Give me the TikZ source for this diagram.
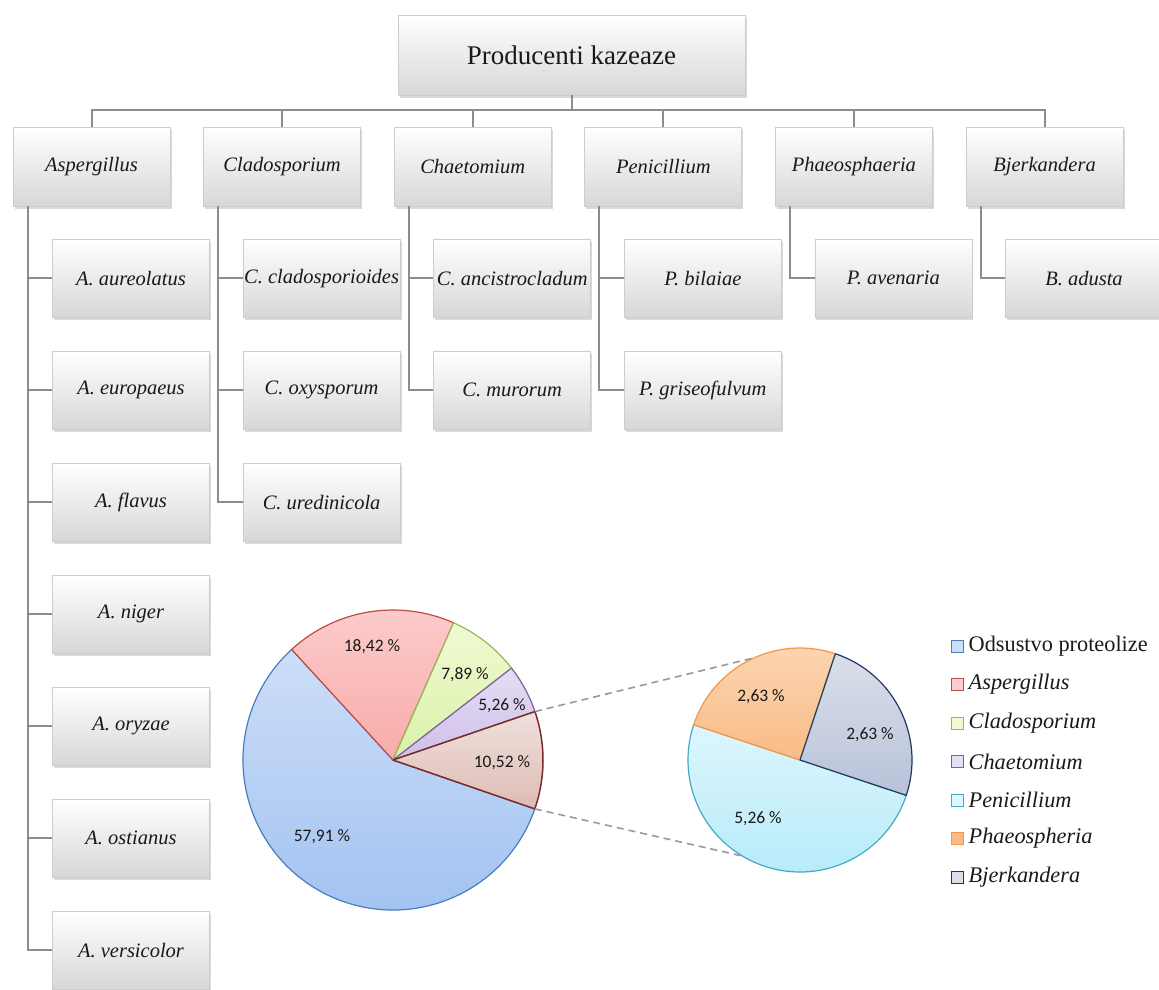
\documentclass[tikz,border=0pt]{standalone}
\usepackage{fontspec}
\setmainfont{Liberation Serif}
\newfontfamily\piefont{Carlito}
\usepackage{xcolor}
\definecolor{LineGray}{RGB}{140,140,140}
\definecolor{BoxBorder}{RGB}{205,205,205}
\definecolor{BoxShade}{RGB}{215,215,215}
\definecolor{TextDark}{RGB}{25,25,25}
\definecolor{BlueLine}{RGB}{74,126,187}
\definecolor{BlueTop}{RGB}{205,222,248}
\definecolor{BlueBot}{RGB}{160,193,241}
\definecolor{PinkLine}{RGB}{190,75,72}
\definecolor{PinkTop}{RGB}{252,205,204}
\definecolor{PinkBot}{RGB}{247,172,170}
\definecolor{GreenLine}{RGB}{152,185,84}
\definecolor{GreenTop}{RGB}{240,250,210}
\definecolor{GreenBot}{RGB}{218,241,168}
\definecolor{PurpleLine}{RGB}{125,96,160}
\definecolor{PurpleTop}{RGB}{230,222,244}
\definecolor{PurpleBot}{RGB}{205,190,232}
\definecolor{TanLine}{RGB}{119,44,42}
\definecolor{TanTop}{RGB}{240,224,220}
\definecolor{TanBot}{RGB}{220,188,180}
\definecolor{CyanLine}{RGB}{70,170,197}
\definecolor{CyanTop}{RGB}{222,246,253}
\definecolor{CyanBot}{RGB}{180,234,249}
\definecolor{OrangeLine}{RGB}{247,150,70}
\definecolor{OrangeTop}{RGB}{252,216,182}
\definecolor{OrangeBot}{RGB}{249,187,134}
\definecolor{NavyLine}{RGB}{31,58,96}
\definecolor{NavyTop}{RGB}{218,223,234}
\definecolor{NavyBot}{RGB}{184,194,216}
\usetikzlibrary{positioning, shadows}
\tikzset{
  % Hierarchy boxes
  hbox/.style={
    rectangle, draw=BoxBorder, line width=0.8pt,
    top color=white, middle color=white!96!black, bottom color=BoxShade,
    drop shadow={shadow xshift=1.5pt, shadow yshift=-3pt, opacity=0.3},
    minimum width=157pt, minimum height=78pt,
    inner sep=1pt, text=TextDark,
    font=\fontsize{20.5}{24}\selectfont\itshape
  },
  rootbox/.style={hbox, minimum width=347pt, minimum height=80pt,
    font=\fontsize{27}{30}\selectfont},
  gbox/.style={hbox, minimum height=79pt},
  sbox/.style={hbox},
  % Tree lines
  conn/.style={draw=LineGray, line width=2pt},
  % Pie slices
  slice/.style={line width=1.2pt, line join=round},
  sl blue/.style={slice, draw=BlueLine, top color=BlueTop, bottom color=BlueBot},
  sl pink/.style={slice, draw=PinkLine, top color=PinkTop, bottom color=PinkBot},
  sl green/.style={slice, draw=GreenLine, top color=GreenTop, bottom color=GreenBot},
  sl purple/.style={slice, draw=PurpleLine, top color=PurpleTop, bottom color=PurpleBot},
  sl tan/.style={slice, draw=TanLine, top color=TanTop, bottom color=TanBot, line width=1.5pt},
  sl cyan/.style={slice, draw=CyanLine, top color=CyanTop, bottom color=CyanBot},
  sl orange/.style={slice, draw=OrangeLine, top color=OrangeTop, bottom color=OrangeBot},
  sl navy/.style={slice, draw=NavyLine, top color=NavyTop, bottom color=NavyBot},
  pielabel/.style={font=\piefont\fontsize{17.5}{20}\selectfont, text=TextDark, inner sep=0pt},
  zoomline/.style={draw=gray!80, line width=1.6pt, dash pattern=on 7pt off 5pt},
  % Legend
  legsq/.style={rectangle, minimum size=12pt, inner sep=0pt, line width=1pt},
  legtext/.style={font=\fontsize{22.3}{25}\selectfont, text=TextDark, inner sep=0pt, anchor=west},
}

\begin{document}
\begin{tikzpicture}[x=1pt, y=1pt]

  \useasboundingbox (0,0) rectangle (1159,-989);

  %% Root and genera
  \node[rootbox] (root) at (571.5,-55) {Producenti kazeaze};

  \node[gbox] (asp) at (91.5,-166.5) {Aspergillus};
  \node[gbox, right=32.8pt of asp] (cla) {Cladosporium};
  \node[gbox, right=32.8pt of cla] (cha) {Chaetomium};
  \node[gbox, right=32.8pt of cha] (pen) {Penicillium};
  \node[gbox, right=32.8pt of pen] (pha) {Phaeosphaeria};
  \node[gbox, right=32.8pt of pha] (bje) {Bjerkandera};

  %% Species
  \node[sbox, below=32.5pt of asp, xshift=39.5pt] (aaur) {A. aureolatus};
  \node[sbox, below=33.2pt of aaur] (aeur) {A. europaeus};
  \node[sbox, below=33.2pt of aeur] (afla) {A. flavus};
  \node[sbox, below=33.2pt of afla] (anig) {A. niger};
  \node[sbox, below=33.2pt of anig] (aory) {A. oryzae};
  \node[sbox, below=33.2pt of aory] (aost) {A. ostianus};
  \node[sbox, below=33.2pt of aost] (aver) {A. versicolor};

  \node[sbox, below=32.5pt of cla, xshift=39.5pt] (ccla) {C. cladosporioides};
  \node[sbox, below=33.2pt of ccla] (coxy) {C. oxysporum};
  \node[sbox, below=33.2pt of coxy] (cure) {C. uredinicola};

  \node[sbox, below=32.5pt of cha, xshift=39.5pt] (canc) {C. ancistrocladum};
  \node[sbox, below=33.2pt of canc] (cmur) {C. murorum};

  \node[sbox, below=32.5pt of pen, xshift=39.5pt] (pbil) {P. bilaiae};
  \node[sbox, below=33.2pt of pbil] (pgri) {P. griseofulvum};

  \node[sbox, below=32.5pt of pha, xshift=39.5pt] (pave) {P. avenaria};

  \node[sbox, below=32.5pt of bje, xshift=39.5pt] (badu) {B. adusta};

  %% Tree lines
  \coordinate (bar) at (0,-110);
  \draw[conn] (root.south) -- (root.south |- bar);
  \draw[conn] (asp.north) -- (asp.north |- bar) -- (bje.north |- bar) -- (bje.north);
  \foreach \g in {cla, cha, pen, pha}
    \draw[conn] (\g.north) -- (\g.north |- bar);

  \foreach \g/\last/\others in {asp/aver/{aaur,aeur,afla,anig,aory,aost},
                                cla/cure/{ccla,coxy},
                                cha/cmur/{canc},
                                pen/pgri/{pbil},
                                pha/pave/{},
                                bje/badu/{}} {
    \coordinate (\g sp) at ([xshift=15pt]\g.south west);
    \draw[conn] (\g sp) |- (\last.west);
    \foreach \s in \others
      \draw[conn] (\s.west) -- (\s.west -| \g sp);
  }

  %% Main pie
  \coordinate (bigc) at (393,-760);
  \draw[sl blue] (bigc) -- ++(-19.02:150pt) arc[start angle=-19.02, end angle=-227.5, radius=150pt] -- cycle;
  \draw[sl pink] (bigc) -- ++(132.5:150pt) arc[start angle=132.5, end angle=66.19, radius=150pt] -- cycle;
  \draw[sl green] (bigc) -- ++(66.19:150pt) arc[start angle=66.19, end angle=37.79, radius=150pt] -- cycle;
  \draw[sl purple] (bigc) -- ++(37.79:150pt) arc[start angle=37.79, end angle=18.85, radius=150pt] -- cycle;
  \draw[sl tan] (bigc) -- ++(18.85:150pt) arc[start angle=18.85, end angle=-19.02, radius=150pt] -- cycle;

  \node[pielabel] (lpink) at (372,-647) {18,42 \%};
  \node[pielabel] (lgreen) at (465,-675) {7,89 \%};
  \node[pielabel] (lpurple) at (502,-706) {5,26 \%};
  \node[pielabel] (ltan) at (502,-763) {10,52 \%};
  \node[pielabel] (lblue) at (322,-837) {57,91 \%};

  %% Detail pie
  \coordinate (smc) at (800,-760);
  \draw[sl cyan] (smc) -- ++(-18.4:112pt) arc[start angle=-18.4, end angle=-198.4, radius=112pt] -- cycle;
  \draw[sl orange] (smc) -- ++(161.6:112pt) arc[start angle=161.6, end angle=71.6, radius=112pt] -- cycle;
  \draw[sl navy] (smc) -- ++(71.6:112pt) arc[start angle=71.6, end angle=-18.4, radius=112pt] -- cycle;

  \node[pielabel] (lorange) at (761,-697) {2,63 \%};
  \node[pielabel] (lnavy) at (870,-735) {2,63 \%};
  \node[pielabel] (lcyan) at (758,-819) {5,26 \%};

  %% Zoom lines
  \coordinate (bigA) at ([shift={(18.85:150pt)}]bigc);
  \coordinate (bigB) at ([shift={(-19.02:150pt)}]bigc);
  \coordinate (smA) at ([shift={(114:112pt)}]smc);
  \coordinate (smB) at ([shift={(-121:112pt)}]smc);
  \draw[zoomline] (bigA) -- (smA);
  \draw[zoomline] (bigB) -- (smB);

  %% Legend
  \foreach \i/\txt/\fc/\dc in {0/{Odsustvo proteolize}/BlueTop/BlueLine,
                               1/{\textit{Aspergillus}}/PinkTop/PinkLine,
                               2/{\textit{Cladosporium}}/GreenTop/GreenLine,
                               3/{\textit{Chaetomium}}/PurpleTop/PurpleLine,
                               4/{\textit{Penicillium}}/CyanTop/CyanLine,
                               5/{\textit{Phaeospheria}}/OrangeBot/OrangeLine,
                               6/{\textit{Bjerkandera}}/NavyTop/NavyLine} {
    \node[legsq, fill=\fc, draw=\dc] (lsq\i) at (957,{-646-38.5*\i}) {};
    \node[legtext, right=5pt of lsq\i] (ltx\i) {\txt};
  }

\end{tikzpicture}
\end{document}
